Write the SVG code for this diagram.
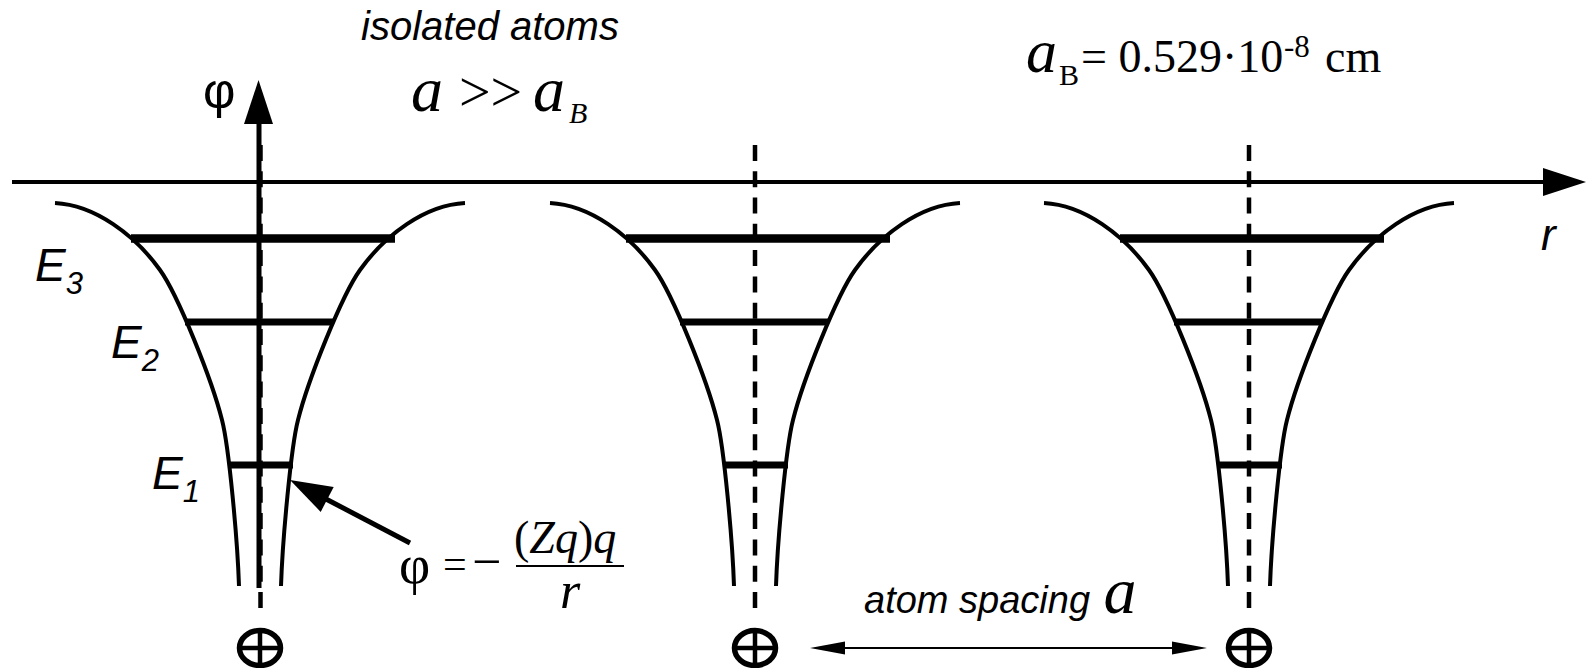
<svg xmlns="http://www.w3.org/2000/svg" xmlns:xlink="http://www.w3.org/1999/xlink" width="1587" height="668" viewBox="0 0 1587 668">
<style>
.sans{font-family:"Liberation Sans",Arial,sans-serif;fill:#000}
.serif{font-family:"Liberation Serif","Times New Roman",serif;fill:#000}
.it{font-style:italic}
.curve{fill:none;stroke:#000;stroke-width:4}
.lvl{stroke:#000;stroke-linecap:butt}
.dash{stroke:#000;stroke-width:4.5;stroke-dasharray:16 10.3;fill:none}
.nuc{fill:none;stroke:#000;stroke-width:5.5}
.nucx{stroke:#000;stroke-width:4.5}
</style>
<defs>
<path id="branch" class="curve" d="M-205,203 C-165,205 -125,235 -100,270 C-82,295 -48,380 -38,420 C-31,447 -22.5,540 -21,586"/>
<g id="nucleus">
<ellipse class="nuc" cx="0" cy="648" rx="20.5" ry="17.5"/>
<line class="nucx" x1="0" y1="630" x2="0" y2="666"/>
<line class="nucx" x1="-20" y1="648" x2="20" y2="648"/>
</g>
</defs>
<rect width="1587" height="668" fill="#fff"/>

<g id="connectors">
<line x1="12" y1="182" x2="1545" y2="182" stroke="#000" stroke-width="4"/>
<polygon points="1586,182 1543,168 1543,196" fill="#000"/>
<line x1="259" y1="588" x2="259" y2="122" stroke="#000" stroke-width="5"/>
<polygon points="258.5,80 244,124 273,124" fill="#000"/>
<line x1="410" y1="543" x2="325" y2="498.5" stroke="#000" stroke-width="5"/>
<polygon points="290,480 333.7,487.1 320.7,511.9" fill="#000"/>
<line x1="840" y1="648" x2="1176" y2="648" stroke="#000" stroke-width="2"/>
<polygon points="810,648 845,641.5 845,654.5" fill="#000"/>
<polygon points="1207,648 1172,641.5 1172,654.5" fill="#000"/>
</g>

<g id="well-1" transform="translate(260,0)">
<use xlink:href="#branch"/>
<use xlink:href="#branch" transform="scale(-1,1)"/>
<line class="lvl" x1="-129" y1="238.5" x2="135" y2="238.5" stroke-width="8.5"/>
<line class="lvl" x1="-75" y1="322" x2="73" y2="322" stroke-width="7"/>
<line class="lvl" x1="-30" y1="465" x2="33" y2="465" stroke-width="7"/>
<line class="dash" x1="0.5" y1="608" x2="0.5" y2="145"/>
<use xlink:href="#nucleus"/>
</g>

<g id="well-2" transform="translate(755,0)">
<use xlink:href="#branch"/>
<use xlink:href="#branch" transform="scale(-1,1)"/>
<line class="lvl" x1="-129" y1="238.5" x2="135" y2="238.5" stroke-width="8.5"/>
<line class="lvl" x1="-75" y1="322" x2="73" y2="322" stroke-width="7"/>
<line class="lvl" x1="-30" y1="465" x2="33" y2="465" stroke-width="7"/>
<line class="dash" x1="0" y1="608" x2="0" y2="145"/>
<use xlink:href="#nucleus"/>
</g>

<g id="well-3" transform="translate(1249,0)">
<use xlink:href="#branch"/>
<use xlink:href="#branch" transform="scale(-1,1)"/>
<line class="lvl" x1="-129" y1="238.5" x2="135" y2="238.5" stroke-width="8.5"/>
<line class="lvl" x1="-75" y1="322" x2="73" y2="322" stroke-width="7"/>
<line class="lvl" x1="-30" y1="465" x2="33" y2="465" stroke-width="7"/>
<line class="dash" x1="0" y1="608" x2="0" y2="145"/>
<use xlink:href="#nucleus"/>
</g>

<g id="labels">
<text class="sans it" x="361" y="40" font-size="40">isolated atoms</text>
<text class="sans" x="203" y="108" font-size="50">φ</text>
<text class="serif" y="111"><tspan class="it" x="411" font-size="64">a</tspan><tspan x="459" font-size="56">&gt;&gt;</tspan><tspan class="it" x="533" font-size="64">a</tspan><tspan class="it" x="569" y="123" font-size="30">B</tspan></text>
<text class="serif" y="72"><tspan class="it" x="1026" font-size="62">a</tspan><tspan x="1059" y="85" font-size="30">B</tspan><tspan x="1081" y="72" font-size="46">= 0.529·10</tspan><tspan x="1284" y="57" font-size="31">-8</tspan><tspan x="1325" y="72" font-size="46">cm</tspan></text>
<text class="sans it" x="1541" y="250" font-size="44">r</text>
<text class="sans it" x="35" y="281" font-size="46">E<tspan font-size="31" y="294">3</tspan></text>
<text class="sans it" x="111" y="358" font-size="46">E<tspan font-size="31" y="371">2</tspan></text>
<text class="sans it" x="152" y="489" font-size="46">E<tspan font-size="31" y="502">1</tspan></text>
<text class="serif"><tspan x="399" y="583" font-size="54">φ</tspan><tspan x="443" y="578" font-size="42">=</tspan><tspan x="472" y="579" font-size="52">−</tspan></text>
<text class="serif" y="553" font-size="46"><tspan x="514">(</tspan><tspan class="it">Zq</tspan><tspan>)</tspan><tspan class="it">q</tspan></text>
<line x1="516" y1="566" x2="624" y2="566" stroke="#000" stroke-width="2"/>
<text class="serif it" x="560" y="608" font-size="52">r</text>
<text class="sans it" x="864" y="613" font-size="38">atom spacing <tspan class="serif" font-size="66" dx="3">a</tspan></text>
</g>
</svg>
